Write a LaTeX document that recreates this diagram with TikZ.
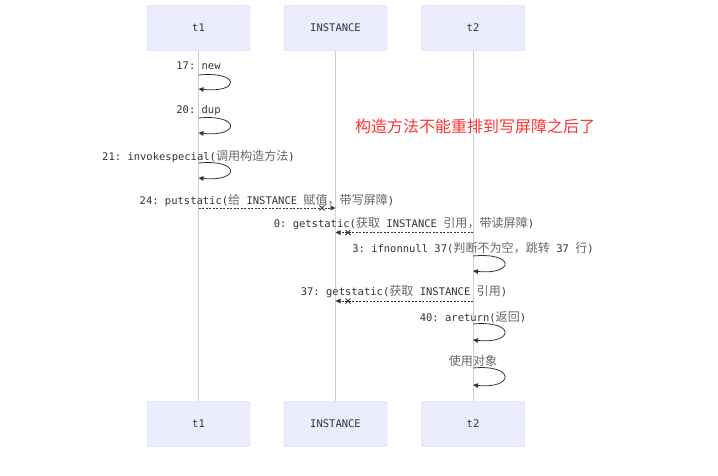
\documentclass[tikz,border=0pt]{standalone}
\usepackage{fontspec}
\setmonofont{DejaVu Sans Mono}
\newfontfamily\cjk{Noto Sans CJK SC}[Scale=1.15]
\newfontfamily\notefont{Noto Sans CJK SC}
\usetikzlibrary{arrows.meta}
\definecolor{actorfill}{HTML}{ECECFF}
\definecolor{actorline}{HTML}{D5CDF2}
\definecolor{lifegray}{HTML}{CFCFCF}
\definecolor{msgtext}{HTML}{333333}
\definecolor{zhtext}{HTML}{666666}
\definecolor{notered}{HTML}{FF3333}
\newcommand{\zh}[1]{{\cjk\color{zhtext}#1}}
\tikzset{
  actor/.style={draw=actorline,fill=actorfill,rounded corners=1.5pt,
    minimum width=103pt,minimum height=45pt,text=msgtext,
    font=\ttfamily\fontsize{10.5}{12}\selectfont},
  lifeline/.style={draw=lifegray,line width=0.7pt},
  msg/.style={inner sep=0pt,text=msgtext,font=\ttfamily\fontsize{10.5}{12}\selectfont},
  selfloop/.style={draw=msgtext,line width=0.8pt,-{Triangle[length=5pt,width=4.5pt]}},
  async/.style={draw=msgtext,line width=0.8pt,dash pattern=on 2pt off 1.5pt,
    -{Triangle[length=5pt,width=4.5pt]}},
  crossmark/.pic={\draw[msgtext,line width=0.8pt] (-2.5,-2.5) -- (2.5,2.5) (-2.5,2.5) -- (2.5,-2.5);}
}
\begin{document}
\begin{tikzpicture}[x=1pt,y=-1pt]
    \useasboundingbox (0,0) rectangle (718,475);
    % actors
    \node[actor] (t1top) at (198.5,28) {t1};
    \node[actor] (insttop) at (335.5,28) {INSTANCE};
    \node[actor] (t2top) at (473,28) {t2};
    \node[actor] (t1bot) at (198.5,424) {t1};
    \node[actor] (instbot) at (335.5,424) {INSTANCE};
    \node[actor] (t2bot) at (473,424) {t2};
    \draw[lifeline] (t1top.south) -- (t1bot.north);
    \draw[lifeline] (insttop.south) -- (instbot.north);
    \draw[lifeline] (t2top.south) -- (t2bot.north);
    % t1 constructs the object
    \node[msg] (new) at (198.5,66) {17: new};
    \node[msg] (dup) at (198.5,111) {20: dup};
    \node[msg] (invoke) at (198.5,156) {21: invokespecial(\zh{调用构造方法})};
    \foreach \name/\ya/\yb in {new/75/89,dup/118/133,invoke/163/178}{
      \coordinate (\name a) at (198.5,\ya);
      \coordinate (\name b) at (198.5,\yb);
      \draw[selfloop] (\name a) .. controls +(42,-4) and +(42,4) .. (\name b);
    }
    \node[msg] (put) at (267,200) {24: putstatic(\zh{给} INSTANCE \zh{赋值，带写屏障})};
    \coordinate (put a) at (198.5,208);
    \coordinate (put b) at (335.5,208);
    \draw[async] (put a) -- (put b);
    \pic at (322,208) {crossmark};
    % red note
    \node[inner sep=0pt,text=notered,font=\notefont\fontsize{16}{18}\selectfont]
      (note) at (475,126) {构造方法不能重排到写屏障之后了};
    % t2 reads the reference
    \node[msg] (get0) at (404,224) {0: getstatic(\zh{获取} INSTANCE \zh{引用，带读屏障})};
    \coordinate (get0 a) at (473,232.5);
    \coordinate (get0 b) at (335.5,232.5);
    \draw[async] (get0 a) -- (get0 b);
    \pic at (348,232.5) {crossmark};
    \node[msg] (ifnn) at (473,248) {3: ifnonnull 37(\zh{判断不为空，跳转} 37 \zh{行})};
    \node[msg] (get37) at (404,292) {37: getstatic(\zh{获取} INSTANCE \zh{引用})};
    \coordinate (get37 a) at (473,301);
    \coordinate (get37 b) at (335.5,301);
    \draw[async] (get37 a) -- (get37 b);
    \pic at (348,301) {crossmark};
    \node[msg] (ret) at (473,317) {40: areturn(\zh{返回})};
    \node[msg] (use) at (473,361) {\zh{使用对象}};
    \foreach \name/\ya/\yb in {ifnn/256/271,ret/324/340,use/368/385}{
      \coordinate (\name a) at (473,\ya);
      \coordinate (\name b) at (473,\yb);
      \draw[selfloop] (\name a) .. controls +(42,-4) and +(42,4) .. (\name b);
    }
\end{tikzpicture}
\end{document}
